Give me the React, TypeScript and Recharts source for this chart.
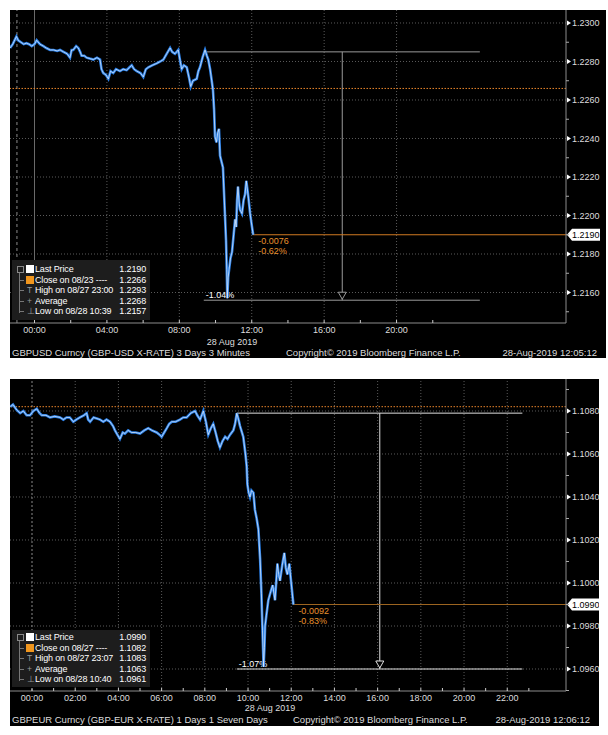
import React from "react";
import { LineChart, Line, XAxis, YAxis, ReferenceLine } from "recharts";

// GBPUSD, hours relative to 00:00 on 28 Aug
const usdHours = [
  -1.35, -1.2, -1.0, -0.9, -0.75, -0.6, -0.45, -0.3, -0.15, 0.0, 0.12, 0.3, 0.49, 0.65, 0.86,
  1.05, 1.25, 1.41, 1.6, 1.8, 1.96, 2.05, 2.14, 2.3, 2.42, 2.52, 2.6, 2.75, 2.88, 3.05, 3.25,
  3.45, 3.62, 3.7, 3.8, 3.95, 4.08, 4.2, 4.35, 4.5, 4.72, 4.9, 5.09, 5.25, 5.37, 5.5, 5.65,
  5.85, 6.01, 6.15, 6.29, 6.5, 6.75, 6.95, 7.12, 7.3, 7.49, 7.6, 7.76, 7.94, 8.05, 8.13, 8.25,
  8.41, 8.55, 8.63, 8.75, 8.96, 9.05, 9.14, 9.28, 9.42, 9.52, 9.6, 9.7, 9.79, 9.86, 9.92, 9.97,
  10.05, 10.12, 10.19, 10.25, 10.33, 10.41, 10.5, 10.58, 10.62, 10.65, 10.7, 10.75, 10.83,
  10.91, 11.0, 11.08, 11.14, 11.19, 11.24, 11.3, 11.35, 11.46, 11.55, 11.63, 11.7, 11.74,
  11.82, 11.91, 12.0, 12.08,
];
const usdPrices = [
  1.2287, 1.2289, 1.2293, 1.2291, 1.229, 1.2289, 1.22895, 1.2289, 1.2288, 1.2289, 1.2291,
  1.2289, 1.2288, 1.2287, 1.2286, 1.2286, 1.22855, 1.2286, 1.2285, 1.2284, 1.2282, 1.2286,
  1.2286, 1.2288, 1.2287, 1.2285, 1.2283, 1.2283, 1.2282, 1.22815, 1.2281, 1.2282, 1.2281,
  1.2276, 1.2274, 1.2273, 1.2271, 1.2275, 1.2274, 1.2276, 1.2275, 1.2276, 1.22755, 1.2277,
  1.2278, 1.2276, 1.2275, 1.2274, 1.2272, 1.2276, 1.2277, 1.2278, 1.2279, 1.228, 1.2281,
  1.2284, 1.2287, 1.2285, 1.2284, 1.2286, 1.228, 1.2276, 1.2278, 1.2277, 1.2271, 1.2267,
  1.227, 1.2271, 1.2275, 1.2277, 1.2282, 1.2286, 1.2283, 1.2281, 1.2276, 1.227, 1.2265,
  1.2255, 1.2241, 1.2238, 1.2243, 1.2245, 1.2231, 1.2228, 1.2225, 1.2205, 1.2187, 1.2172,
  1.2157, 1.2168, 1.2172, 1.2178, 1.2181, 1.219, 1.2198, 1.2194, 1.2208, 1.2215, 1.2207,
  1.2203, 1.2201, 1.2208, 1.2211, 1.2218, 1.2215, 1.2209, 1.2201, 1.2195, 1.219,
];

// GBPEUR
const eurHours = [
  -1.0, -0.88, -0.71, -0.55, -0.4, -0.25, -0.09, 0.06, 0.22, 0.35, 0.45, 0.65, 0.83, 1.05,
  1.3, 1.45, 1.6, 1.75, 1.91, 2.05, 2.22, 2.4, 2.53, 2.6, 2.69, 2.85, 3.0, 3.15, 3.3, 3.45,
  3.61, 3.75, 3.84, 3.95, 4.07, 4.2, 4.3, 4.45, 4.61, 4.8, 5.0, 5.2, 5.38, 5.55, 5.77, 5.9,
  6.0, 6.12, 6.24, 6.35, 6.47, 6.65, 6.85, 7.0, 7.16, 7.35, 7.55, 7.65, 7.78, 7.93, 8.05,
  8.16, 8.28, 8.39, 8.5, 8.6, 8.7, 8.82, 8.94, 9.05, 9.17, 9.32, 9.4, 9.48, 9.56, 9.63, 9.78,
  9.88, 9.94, 9.97, 10.03, 10.09, 10.16, 10.25, 10.32, 10.4, 10.48, 10.56, 10.62, 10.67,
  10.72, 10.76, 10.79, 10.85, 10.94, 11.05, 11.14, 11.25, 11.36, 11.42, 11.48, 11.58, 11.68,
  11.75, 11.82, 11.91, 12.0, 12.1,
];
const eurPrices = [
  1.1082, 1.1083, 1.10805, 1.1079, 1.108, 1.1078, 1.1078, 1.108, 1.1081, 1.1079, 1.1078,
  1.1078, 1.1077, 1.10775, 1.1077, 1.1076, 1.1077, 1.1077, 1.1075, 1.1076, 1.1077, 1.1078,
  1.1079, 1.1076, 1.1075, 1.1077, 1.10765, 1.1076, 1.1075, 1.1076, 1.1075, 1.1073, 1.1071,
  1.1069, 1.1067, 1.107, 1.10695, 1.1071, 1.107, 1.107, 1.10695, 1.1071, 1.1072, 1.1071,
  1.107, 1.1069, 1.1068, 1.107, 1.1072, 1.1074, 1.1075, 1.1075, 1.1076, 1.1077, 1.1077,
  1.1079, 1.108, 1.1078, 1.1076, 1.108, 1.1075, 1.1069, 1.1072, 1.1074, 1.107, 1.1066,
  1.1063, 1.1066, 1.1068, 1.1067, 1.1069, 1.1071, 1.1074, 1.1079, 1.1076, 1.1073, 1.1068,
  1.106, 1.1054, 1.1046, 1.1042, 1.104, 1.1043, 1.1042, 1.1034, 1.103, 1.1025, 1.1011,
  1.0995, 1.0978, 1.0961, 1.097, 1.098, 1.0985, 1.0992, 1.0996, 1.0999, 1.0992, 1.1009,
  1.1004, 1.1001, 1.1008, 1.1014, 1.1007, 1.1004, 1.1009, 1.1, 1.099,
];

const usdYTicks = [1.215, 1.216, 1.217, 1.218, 1.219, 1.22, 1.221, 1.222, 1.223, 1.224, 1.225, 1.226, 1.227, 1.228, 1.229, 1.23];
const usdGridY = [1.216, 1.218, 1.22, 1.222, 1.224, 1.226, 1.228, 1.23];
const usdXTicks = [0, 2, 4, 6, 8, 10, 12, 14, 16, 18, 20, 22];
const usdXLabels = [0, 4, 8, 12, 16, 20];
const usdLegendLabels = ["Last Price", "Close on 08/23 ----", "High on 08/27 23:00", "Average", "Low on 08/28 10:39"];
const usdLegendValues = ["1.2190", "1.2266", "1.2293", "1.2268", "1.2157"];

const eurYTicks = [1.095, 1.096, 1.097, 1.098, 1.099, 1.1, 1.101, 1.102, 1.103, 1.104, 1.105, 1.106, 1.107, 1.108, 1.109];
const eurGridY = [1.096, 1.098, 1.1, 1.102, 1.104, 1.106, 1.108];
const eurXTicks = [0, 1, 2, 3, 4, 5, 6, 7, 8, 9, 10, 11, 12, 13, 14, 15, 16, 17, 18, 19, 20, 21, 22, 23];
const eurXLabels = [0, 2, 4, 6, 8, 10, 12, 14, 16, 18, 20, 22];
const eurLegendLabels = ["Last Price", "Close on 08/27 ----", "High on 08/27 23:07", "Average", "Low on 08/28 10:40"];
const eurLegendValues = ["1.0990", "1.1082", "1.1083", "1.1063", "1.0961"];

const FONT = "'Liberation Sans', Arial, sans-serif";

const fmtHour = (v: number) => {
  const h = ((v % 24) + 24) % 24;
  return `${String(h).padStart(2, "0")}:00`;
};

const YTick = (props: any) => {
  const { x, y, payload } = props;
  const v = payload.value as number;
  const major = Math.round(v * 1000) % 2 === 0;
  if (!major) return <line x1={x} x2={x + 3} y1={y} y2={y} stroke="#aaa" />;
  return (
    <g>
      <path d={`M${x + 1},${y - 2.5} L${x + 5},${y} L${x + 1},${y + 2.5} Z`} fill="#fff" />
      <text x={x + 6} y={y + 3.3} fill="#ddd" fontSize={9} fontFamily={FONT}>
        {v.toFixed(4)}
      </text>
    </g>
  );
};

const makeXTick = (labels: number[]) => (props: any) => {
  const { x, y, payload } = props;
  const v = payload.value as number;
  const isLabel = labels.includes(v);
  return (
    <g>
      <line x1={x} x2={x} y1={y - 3} y2={y} stroke="#ccc" />
      {isLabel && (
        <text x={x} y={y + 9.5} textAnchor="middle" fill="#ddd" fontSize={9} fontFamily={FONT}>
          {fmtHour(v)}
        </text>
      )}
    </g>
  );
};

// last price tag on the axis plus change labels
const LastTag = (props: any) => {
  const { viewBox, price, change, pct, color } = props;
  if (!viewBox) return null;
  const { x, y, width } = viewBox;
  const ax = x + width;
  return (
    <g fontFamily={FONT} fontSize={9}>
      <text x={x + 5} y={y + 9} fill={color}>{change}</text>
      <text x={x + 5} y={y + 19} fill={color}>{pct}</text>
      <path
        d={`M${ax + 1},${y} L${ax + 6},${y - 6} L${ax + 34},${y - 6} L${ax + 34},${y + 6} L${ax + 6},${y + 6} Z`}
        fill="#fff"
      />
      <text x={ax + 6} y={y + 3.3} fill="#000">{price}</text>
    </g>
  );
};

const LowTag = (props: any) => {
  const { viewBox, text, color } = props;
  if (!viewBox) return null;
  const { x, y } = viewBox;
  return (
    <text x={x + 2} y={y - 2} fill={color} fontSize={9} fontFamily={FONT}>
      {text}
    </text>
  );
};

const ArrowTip = (props: any) => {
  const { viewBox, color } = props;
  if (!viewBox) return null;
  const { x, y, height } = viewBox;
  const b = y + height;
  return <path d={`M${x - 4},${b - 8} L${x + 4},${b - 8} L${x},${b - 1} Z`} fill="#000" stroke={color} />;
};

interface BbgProps {
  hours: number[];
  prices: number[];
  width: number;
  height: number;
  yWidth: number;
  xDomain: [number, number];
  yDomain: [number, number];
  yTicks: number[];
  gridY: number[];
  xTicks: number[];
  xLabels: number[];
  gridX: number[];
  closeValue: number;
  lastValue: number;
  lastColor: string;
  change: string;
  pct: string;
  boxHigh: number;
  boxLow: number;
  boxStart: number;
  boxEnd: number;
  arrowAt: number;
  lowText: string;
  measureColor: string;
  dayLines: { x: number; dash: string; color: string }[];
}

const BbgChart = (p: BbgProps) => {
  const data = p.hours.map((h, i) => ({ h, p: p.prices[i] }));
  const lastH = p.hours[p.hours.length - 1];
  return (
    <LineChart width={p.width} height={p.height} data={data} margin={{ top: 0, right: 0, bottom: 0, left: 0 }}>
      <XAxis
        dataKey="h"
        type="number"
        domain={p.xDomain}
        allowDataOverflow
        ticks={p.xTicks}
        interval={0}
        height={35}
        tickSize={0}
        tickMargin={0}
        tickLine={false}
        axisLine={{ stroke: "#8c8c8c" }}
        tick={makeXTick(p.xLabels)}
      />
      <YAxis
        type="number"
        orientation="right"
        domain={p.yDomain}
        allowDataOverflow
        ticks={p.yTicks}
        interval={0}
        width={p.yWidth}
        tickSize={0}
        tickMargin={0}
        tickLine={false}
        axisLine={{ stroke: "#8c8c8c" }}
        tick={<YTick />}
      />
      {p.gridY.map((v) => (
        <ReferenceLine key={`gy${v}`} y={v} stroke="#5a5a5a" strokeDasharray="1 2" />
      ))}
      {p.gridX.map((v) => (
        <ReferenceLine key={`gx${v}`} x={v} stroke="#5a5a5a" strokeDasharray="1 2" />
      ))}
      {p.dayLines.map((d) => (
        <ReferenceLine key={`d${d.x}`} x={d.x} stroke={d.color} strokeDasharray={d.dash} />
      ))}
      <ReferenceLine y={p.closeValue} stroke="#e8842a" strokeDasharray="1.5 1.5" />
      <ReferenceLine
        segment={[{ x: p.boxStart, y: p.boxHigh }, { x: p.boxEnd, y: p.boxHigh }]}
        stroke={p.measureColor}
      />
      <ReferenceLine
        segment={[{ x: p.boxStart, y: p.boxLow }, { x: p.boxEnd, y: p.boxLow }]}
        stroke={p.measureColor}
        label={<LowTag text={p.lowText} color="#fff" />}
      />
      <ReferenceLine
        segment={[{ x: p.arrowAt, y: p.boxHigh }, { x: p.arrowAt, y: p.boxLow }]}
        stroke={p.measureColor}
        label={<ArrowTip color={p.measureColor} />}
      />
      <ReferenceLine
        segment={[{ x: lastH, y: p.lastValue }, { x: p.xDomain[1], y: p.lastValue }]}
        stroke={p.lastColor}
        label={<LastTag price={p.lastValue.toFixed(4)} change={p.change} pct={p.pct} color="#e8902e" />}
      />
      <Line dataKey="p" type="linear" stroke="#2a7fe6" strokeWidth={2.6} dot={false} isAnimationActive={false} />
      <Line
        dataKey="p"
        type="linear"
        stroke="#ffffff"
        strokeWidth={0.7}
        strokeOpacity={0.9}
        dot={false}
        isAnimationActive={false}
      />
    </LineChart>
  );
};

const Legend = ({ labels, values, top, height, pad }: { labels: string[]; values: string[]; top: number; height: number; pad: number }) => {
  const glyphs = ["", "", "T", "+", "⊥"];
  return (
    <div
      style={{
        position: "absolute",
        left: 2,
        top,
        width: 138,
        height,
        background: "#1d1d1d",
        fontFamily: FONT,
        fontSize: 9,
        letterSpacing: -0.15,
        color: "#fff",
        paddingTop: pad,
        boxSizing: "border-box",
      }}
    >
      <div style={{ position: "absolute", left: 7, top: pad + 6, width: 1, height: 43, background: "#777" }} />
      {labels.map((l, i) => (
        <div key={l} style={{ position: "relative", height: 10.5, lineHeight: "10.5px" }}>
          {i === 0 && (
            <div style={{ position: "absolute", left: 5, top: 2, width: 5, height: 5, border: "1px solid #888", background: "#1d1d1d" }} />
          )}
          {i > 0 && <div style={{ position: "absolute", left: 8, top: 5, width: 4, height: 1, background: "#777" }} />}
          {i === 0 && <div style={{ position: "absolute", left: 14, top: 1, width: 8, height: 8, background: "#fff" }} />}
          {i === 1 && <div style={{ position: "absolute", left: 14, top: 1, width: 8, height: 8, background: "#f0961e" }} />}
          {i > 1 && (
            <span style={{ position: "absolute", left: 15, top: 0, color: "#999", fontSize: 8.5 }}>{glyphs[i]}</span>
          )}
          <span style={{ position: "absolute", left: 23, whiteSpace: "pre" }}>{l}</span>
          <span style={{ position: "absolute", right: 4 }}>{values[i]}</span>
        </div>
      ))}
    </div>
  );
};

const Footer = ({ left, copyX, right, top }: { left: string; copyX: number; right: string; top: number }) => (
  <div style={{ position: "absolute", left: 0, top, width: "100%", height: 12, fontFamily: FONT, fontSize: 9.5, color: "#ddd", lineHeight: "12px" }}>
    <span style={{ position: "absolute", left: 2 }}>{left}</span>
    <span style={{ position: "absolute", left: copyX }}>Copyright© 2019 Bloomberg Finance L.P.</span>
    <span style={{ position: "absolute", right: 9 }}>{right}</span>
  </div>
);

const DateLabel = ({ cx, top }: { cx: number; top: number }) => (
  <div style={{ position: "absolute", left: cx - 40, top, width: 80, textAlign: "center", fontFamily: FONT, fontSize: 9, color: "#ddd", lineHeight: "10px" }}>
    28 Aug 2019
  </div>
);

export default function App() {
  return (
    <div style={{ position: "absolute", left: 0, top: 0, width: 608, height: 735, background: "#fff", overflow: "hidden" }}>
      <div style={{ position: "absolute", left: 10, top: 10, width: 596, height: 348, background: "#000" }}>
        <BbgChart
          hours={usdHours}
          prices={usdPrices}
          width={596}
          height={348}
          yWidth={40}
          xDomain={[-1.354, 29.36]}
          yDomain={[1.214416, 1.230675]}
          yTicks={usdYTicks}
          gridY={usdGridY}
          xTicks={usdXTicks}
          xLabels={usdXLabels}
          gridX={[4, 8, 12, 16, 20]}
          closeValue={1.2266}
          lastValue={1.219}
          lastColor="#d07a22"
          change="-0.0076"
          pct="-0.62%"
          boxHigh={1.2285}
          boxLow={1.2156}
          boxStart={9.35}
          boxEnd={24.6}
          arrowAt={17}
          lowText="-1.04%"
          measureColor="#9a9a9a"
          dayLines={[
            { x: -0.97, dash: "3 3", color: "#8a8a8a" },
            { x: 0, dash: "0", color: "#6a6a6a" },
          ]}
        />
        <Legend labels={usdLegendLabels} values={usdLegendValues} top={250} height={60} pad={4} />
        <DateLabel cx={222} top={327} />
        <Footer left="GBPUSD Curncy (GBP-USD X-RATE) 3 Days 3 Minutes" copyX={276} right="28-Aug-2019 12:05:12" top={337} />
      </div>
      <div style={{ position: "absolute", left: 10, top: 379, width: 589, height: 347, background: "#000" }}>
        <BbgChart
          hours={eurHours}
          prices={eurPrices}
          width={589}
          height={347}
          yWidth={33}
          xDomain={[-1.019, 24.72]}
          yDomain={[1.094977, 1.109488]}
          yTicks={eurYTicks}
          gridY={eurGridY}
          xTicks={eurXTicks}
          xLabels={eurXLabels}
          gridX={[2, 4, 6, 8, 10, 12, 14, 16, 18, 20, 22]}
          closeValue={1.1082}
          lastValue={1.099}
          lastColor="#9c6420"
          change="-0.0092"
          pct="-0.83%"
          boxHigh={1.1079}
          boxLow={1.096}
          boxStart={9.48}
          boxEnd={22.7}
          arrowAt={16.1}
          lowText="-1.07%"
          measureColor="#e0e0e0"
          dayLines={[{ x: 0, dash: "2 2", color: "#8a8a8a" }]}
        />
        <Legend labels={eurLegendLabels} values={eurLegendValues} top={251} height={57} pad={2} />
        <DateLabel cx={260} top={324} />
        <Footer left="GBPEUR Curncy (GBP-EUR X-RATE) 1 Days 1 Seven Days" copyX={283} right="28-Aug-2019 12:06:12" top={335} />
      </div>
    </div>
  );
}
